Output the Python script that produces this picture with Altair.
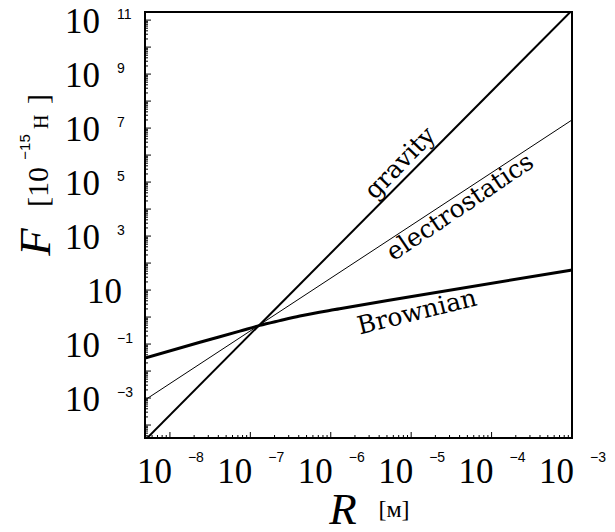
import altair as alt
import pandas as pd

# ---- data ----
R_grav = [4.9e-9, 1e-3]
F_grav = [2.75e-5, 2.3e11]

R_elec = [4.9e-9, 1e-3]
F_elec = [8.5e-4, 2.0e7]

R_brown = [4.9e-9, 2.36e-8, 7.4e-8, 1.31e-7, 2.32e-7, 4.12e-7, 1.29e-6, 7.2e-6, 1e-3]
F_brown = [0.030, 0.117, 0.30, 0.49, 0.74, 1.10, 2.04, 4.9, 55.0]

x_label_exp = [-8, -7, -6, -5, -4, -3]
y_label_exp = [11, 9, 7, 5, 3, 1, -1, -3]

W, H = 427, 426
xdom = [10 ** -8.31, 1e-3]
ydom = [10 ** -4.48, 10 ** 11.3]

xs = alt.Scale(type="log", domain=xdom, nice=False)
ys = alt.Scale(type="log", domain=ydom, nice=False)

def X(field="R"):
    return alt.X(f"{field}:Q", scale=xs, axis=None)

def Y(field="F"):
    return alt.Y(f"{field}:Q", scale=ys, axis=None)

SERIF = "Liberation Serif"
SANS = "Liberation Sans"
LBL = "DejaVu Serif"

grav = alt.Chart(pd.DataFrame({"R": R_grav, "F": F_grav})).mark_line(
    color="black", strokeWidth=2, clip=True).encode(x=X(), y=Y())
elec = alt.Chart(pd.DataFrame({"R": R_elec, "F": F_elec})).mark_line(
    color="black", strokeWidth=1, clip=True).encode(x=X(), y=Y())
brown = alt.Chart(pd.DataFrame({"R": R_brown, "F": F_brown})).mark_line(
    color="black", strokeWidth=3, clip=True, interpolate="monotone").encode(x=X(), y=Y())

# ticks
x_major = [10.0 ** e for e in range(-8, -2)]
x_minor = [k * 10.0 ** e for e in range(-9, -3) for k in range(2, 10)
           if xdom[0] <= k * 10.0 ** e <= xdom[1]]
y_major = [10.0 ** e for e in range(-4, 12) if ydom[0] <= 10.0 ** e <= ydom[1]]
y_minor = [k * 10.0 ** e for e in range(-5, 12) for k in range(2, 10)
           if ydom[0] <= k * 10.0 ** e <= ydom[1]]

xt_major = alt.Chart(pd.DataFrame({"R": x_major})).mark_rule(color="black", strokeWidth=1).encode(
    x=X(), y=alt.value(H), y2=alt.value(H - 6))
xt_minor = alt.Chart(pd.DataFrame({"R": x_minor})).mark_rule(color="black", strokeWidth=1).encode(
    x=X(), y=alt.value(H), y2=alt.value(H - 3))
yt_major = alt.Chart(pd.DataFrame({"F": y_major})).mark_rule(color="black", strokeWidth=1).encode(
    y=Y(), x=alt.value(0), x2=alt.value(6))
yt_minor = alt.Chart(pd.DataFrame({"F": y_minor})).mark_rule(color="black", strokeWidth=1).encode(
    y=Y(), x=alt.value(0), x2=alt.value(3))

# tick labels
def sup(e):
    return ("\u2212" + str(-e)) if e < 0 else str(e)

xl = pd.DataFrame({"R": [10.0 ** e for e in x_label_exp],
                   "s": [sup(e) for e in x_label_exp]})
x_ten = alt.Chart(xl).mark_text(text="10", font=SERIF, fontSize=35, align="right",
                                baseline="middle", dx=2, color="black").encode(
    x=X(), y=alt.value(H + 34))
x_sup = alt.Chart(xl).mark_text(font=SANS, fontSize=14, align="left",
                                baseline="middle", dx=18, color="black").encode(
    x=X(), y=alt.value(H + 20), text="s:N")

yl_sup_exp = [e for e in y_label_exp if e != 1]
yl = pd.DataFrame({"F": [10.0 ** e for e in yl_sup_exp],
                   "s": [sup(e) for e in yl_sup_exp]})
y_ten = alt.Chart(yl).mark_text(text="10", font=SERIF, fontSize=35, align="right",
                                baseline="middle", dy=2, color="black").encode(
    y=Y(), x=alt.value(-45))
y_sup = alt.Chart(yl).mark_text(font=SANS, fontSize=14, align="left",
                                baseline="middle", dy=-5, color="black").encode(
    y=Y(), x=alt.value(-28), text="s:N")
y_one = alt.Chart(pd.DataFrame({"F": [10.0 ** e for e in y_label_exp if e == 1]})).mark_text(
    text="10", font=SERIF, fontSize=35, align="right", baseline="middle", dy=2,
    color="black").encode(y=Y(), x=alt.value(-23))

one = alt.Data(values=[{}])

def txt(t, x, y, **kw):
    return alt.Chart(one).mark_text(text=t, color="black", **kw).encode(
        x=alt.value(x), y=alt.value(y))

titles = [
    txt("R", 198, 512, font=SERIF, fontSize=45, fontStyle="italic", align="center", baseline="alphabetic"),
    txt("[м]", 249, 505, font=SERIF, fontSize=24, align="center", baseline="alphabetic"),
    txt("F", -95, 230, font=SERIF, fontSize=45, fontStyle="italic", angle=270, align="center", baseline="alphabetic"),
    txt("[10", -97, 195, font=SERIF, fontSize=30, angle=270, align="left", baseline="alphabetic"),
    txt("\u221215", -115, 135, font=SANS, fontSize=15, angle=270, align="center", baseline="alphabetic"),
    txt("H", -97, 117, font=SERIF, fontSize=20, angle=270, align="left", baseline="alphabetic"),
    txt("]", -97, 92, font=SERIF, fontSize=30, angle=270, align="left", baseline="alphabetic"),
    txt("gravity", 255, 151, font=LBL, fontSize=25, angle=314, align="center", baseline="middle"),
    txt("electrostatics", 315, 195, font=LBL, fontSize=25, angle=326, align="center", baseline="middle"),
    txt("Brownian", 272, 300, font=LBL, fontSize=25, angle=346, align="center", baseline="middle"),
]

chart = alt.layer(
    xt_minor, xt_major, yt_minor, yt_major,
    elec, grav, brown,
    x_ten, x_sup, y_ten, y_sup, y_one,
    *titles,
).properties(
    width=W, height=H,
    autosize=alt.AutoSizeParams(type="none"),
    padding={"left": 137, "top": 4, "right": 35, "bottom": 92},
).configure_view(stroke="black", strokeWidth=2)

chart.save("out.html", embed_options={"renderer": "svg", "actions": False})
